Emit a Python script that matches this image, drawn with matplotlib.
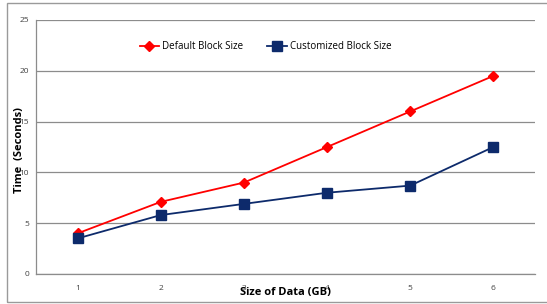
import matplotlib
matplotlib.use("Agg")
import matplotlib.pyplot as plt
from matplotlib.patches import Rectangle

categories = ["1", "2", "3", "4", "5", "6"]
default_block = [4.0, 7.1, 9.0, 12.5, 16.0, 19.5]
custom_block = [3.5, 5.8, 6.9, 8.0, 8.7, 12.5]
y_ticks = [0, 5, 10, 15, 20, 25]

plt.rcParams['font.family'] = ['Open Sans', 'DejaVu Sans']

W, H = 547, 304
fig = plt.figure(figsize=(W/100, H/100), dpi=100)
fig.patch.set_facecolor('white')

# outer chart border
fig.add_artist(Rectangle((7/W, 1 - 302/H), (W + 5 - 7)/W, (302 - 3)/H,
                         transform=fig.transFigure, fill=False,
                         edgecolor='#9a9a9a', linewidth=1.0))

ax = fig.add_axes([36/W, 1 - 274/H, (535 - 36)/W, (274 - 20)/H])
x = list(range(1, len(categories) + 1))
ax.plot(x, default_block, color='#ff0000', marker='D', markersize=5,
        linewidth=1.3, label='Default Block Size', zorder=3)
ax.plot(x, custom_block, color='#0d2a6b', marker='s', markersize=7,
        linewidth=1.3, label='Customized Block Size', zorder=3)

ax.set_xlim(0.5, 6.5)
ax.set_ylim(0, 25)
ax.set_xticks(x)
ax.set_xticklabels(categories)
ax.set_yticks(y_ticks)
ax.tick_params(axis='both', length=0, labelsize=6, colors='#404040')
ax.tick_params(axis='x', pad=8)
ax.tick_params(axis='y', pad=5)
ax.yaxis.grid(True, color='#8c8c8c', linewidth=0.9)
ax.set_axisbelow(True)
for s in ['top', 'right']:
    ax.spines[s].set_visible(False)
for s in ['left', 'bottom']:
    ax.spines[s].set_color('#8c8c8c')
    ax.spines[s].set_linewidth(0.9)

fig.text(285/W, 1 - 292/H, 'Size of Data (GB)', ha='center', va='center',
         fontsize=8, fontweight='bold', color='#000000')
fig.text(20/W, 1 - 150/H, 'Time  (Seconds)', ha='center', va='center',
         rotation=90, fontsize=8, fontweight='bold', color='#000000')

leg = ax.legend(loc='center', bbox_to_anchor=(0.46, 0.895), ncol=2, frameon=False,
                fontsize=7, handlelength=2.0, columnspacing=2.5,
                handletextpad=0.3)

fig.savefig('out.png', dpi=100)
